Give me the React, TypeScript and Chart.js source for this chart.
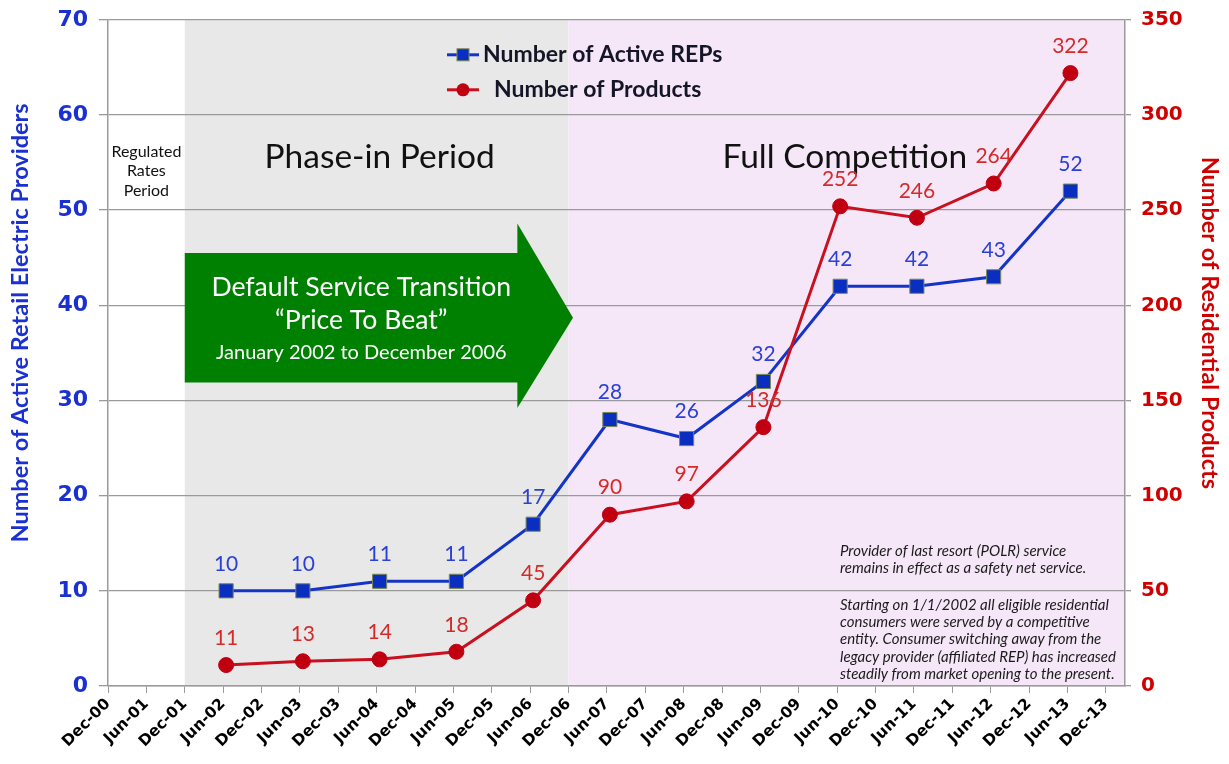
import React, { useEffect, useRef } from 'react';
import { Chart, registerables } from 'chart.js';

Chart.register(...registerables);

// ---- data ----
const tickLabels = [
  'Dec-00', 'Jun-01', 'Dec-01', 'Jun-02', 'Dec-02', 'Jun-03', 'Dec-03', 'Jun-04', 'Dec-04',
  'Jun-05', 'Dec-05', 'Jun-06', 'Dec-06', 'Jun-07', 'Dec-07', 'Jun-08', 'Dec-08', 'Jun-09',
  'Dec-09', 'Jun-10', 'Dec-10', 'Jun-11', 'Dec-11', 'Jun-12', 'Dec-12', 'Jun-13', 'Dec-13',
];
const snapshotDates = [
  '2002-06-15', '2003-06-15', '2004-06-15', '2005-06-15', '2006-06-15', '2007-06-15',
  '2008-06-15', '2009-06-15', '2010-06-15', '2011-06-15', '2012-06-15', '2013-06-15',
];
const activeReps = [10, 10, 11, 11, 17, 28, 26, 32, 42, 42, 43, 52];
const residentialProducts = [11, 13, 14, 18, 45, 90, 97, 136, 252, 246, 264, 322];

const repsLabel = 'Number of Active REPs';
const productsLabel = 'Number of Products';
const leftTitle = 'Number of Active Retail Electric Providers';
const rightTitle = 'Number of Residential Products';

const regulatedStart = '2000-12-01';
const phaseInStart = '2001-12-01';
const fullCompStart = '2006-12-01';
const axisEnd = '2014-03-01';

const footnote1 = [
  'Provider of last resort (POLR) service',
  'remains in effect as a safety net service.',
];
const footnote2 = [
  'Starting on 1/1/2002 all eligible residential',
  'consumers were served by a competitive',
  'entity. Consumer switching away from the',
  'legacy provider (affiliated REP) has increased',
  'steadily from market opening to the present.',
];

// months since Dec 2000
const toMonths = (iso: string) => {
  const [y, m, d] = iso.split('-').map(Number);
  return (y - 2000) * 12 + (m - 12) + (d - 1) / 30;
};

const BLUE_LINE = '#1434c8';
const BLUE_MARK = '#0a2fc0';
const BLUE_TEXT = '#2b40d4';
const BLUE_AXIS = '#1a30d0';
const RED_LINE = '#c8101e';
const RED_MARK = '#c00010';
const RED_TEXT = '#d42a2a';
const RED_AXIS = '#d00000';
const GRID = '#9a9a9a';

const decorPlugin = {
  id: 'decor',
  beforeDraw(chart: any) {
    const { ctx, chartArea, scales } = chart;
    const { top, bottom, right } = chartArea;
    const x = scales.x;
    ctx.save();
    ctx.fillStyle = '#ffffff';
    ctx.fillRect(0, 0, chart.width, chart.height);
    const xa = x.getPixelForValue(toMonths(phaseInStart));
    const xb = x.getPixelForValue(toMonths(fullCompStart));
    ctx.fillStyle = '#e8e8e8';
    ctx.fillRect(xa, top, xb - xa, bottom - top);
    ctx.fillStyle = '#f5e7f8';
    ctx.fillRect(xb, top, right - xb, bottom - top);
    ctx.restore();
  },
  beforeDatasetsDraw(chart: any) {
    const { ctx, chartArea, scales } = chart;
    const { top, bottom, right } = chartArea;
    const x = scales.x;
    const y = scales.y;
    ctx.save();

    // green arrow
    const ax0 = x.getPixelForValue(toMonths(phaseInStart));
    const axHead = x.getPixelForValue(64);
    const axTip = x.getPixelForValue(toMonths(fullCompStart) + 0.7);
    const bTop = y.getPixelForValue(45.5);
    const bBot = y.getPixelForValue(31.9);
    const hTop = y.getPixelForValue(48.6);
    const hBot = y.getPixelForValue(29.2);
    const mid = (bTop + bBot) / 2;
    ctx.fillStyle = '#008000';
    ctx.beginPath();
    ctx.moveTo(ax0, bTop);
    ctx.lineTo(axHead, bTop);
    ctx.lineTo(axHead, hTop);
    ctx.lineTo(axTip, mid);
    ctx.lineTo(axHead, hBot);
    ctx.lineTo(axHead, bBot);
    ctx.lineTo(ax0, bBot);
    ctx.closePath();
    ctx.fill();

    ctx.fillStyle = '#ffffff';
    ctx.textAlign = 'center';
    ctx.textBaseline = 'middle';
    const tcx = x.getPixelForValue(39.6);
    ctx.font = '26.6px Lato';
    ctx.fillText('Default Service Transition', tcx, bTop + 34);
    ctx.fillText('\u201CPrice To Beat\u201D', tcx, bTop + 67);
    ctx.font = '20px Lato';
    ctx.fillText('January 2002 to December 2006', tcx, bTop + 100);

    // period labels
    ctx.fillStyle = '#111111';
    ctx.font = '16px Lato';
    const rcx = (x.getPixelForValue(toMonths(regulatedStart)) + x.getPixelForValue(toMonths(phaseInStart))) / 2;
    ctx.fillText('Regulated', rcx, top + 132);
    ctx.fillText('Rates', rcx, top + 151);
    ctx.fillText('Period', rcx, top + 171);
    ctx.font = '33.5px Lato';
    const xPhaseEnd = x.getPixelForValue(toMonths(fullCompStart));
    ctx.fillText('Phase-in Period', (ax0 + xPhaseEnd) / 2 + 3, top + 137);
    ctx.fillText('Full Competition', (xPhaseEnd + right) / 2 - 2, top + 137);

    // footnotes
    ctx.textAlign = 'left';
    ctx.font = 'italic 15px Lato';
    ctx.fillStyle = '#1a1a1a';
    const fx = right - 285;
    footnote1.forEach((t, i) => ctx.fillText(t, fx, bottom - 135 + i * 17.5));
    footnote2.forEach((t, i) => ctx.fillText(t, fx, bottom - 81 + i * 17.3));

    // legend
    const lx = x.getPixelForValue(0) + 339;
    const legendItems = [
      { label: repsLabel, line: BLUE_LINE, fill: BLUE_MARK, style: 'rect', y: top + 35, tx: lx + 36 },
      { label: productsLabel, line: RED_LINE, fill: RED_MARK, style: 'circle', y: top + 70, tx: lx + 47 },
    ];
    legendItems.forEach((it) => {
      ctx.strokeStyle = it.line;
      ctx.lineWidth = 3;
      ctx.beginPath();
      ctx.moveTo(lx, it.y);
      ctx.lineTo(lx + 32, it.y);
      ctx.stroke();
      ctx.fillStyle = it.fill;
      if (it.style === 'rect') {
        ctx.fillRect(lx + 10, it.y - 6, 12, 12);
        ctx.strokeStyle = '#7a8a50';
        ctx.lineWidth = 1;
        ctx.strokeRect(lx + 10, it.y - 6, 12, 12);
      } else {
        ctx.beginPath();
        ctx.arc(lx + 16, it.y, 6.5, 0, Math.PI * 2);
        ctx.fill();
      }
      ctx.fillStyle = '#151528';
      ctx.font = 'bold 23px Lato';
      ctx.textAlign = 'left';
      ctx.fillText(it.label, it.tx, it.y);
    });
    ctx.restore();
  },
  afterDatasetsDraw(chart: any) {
    const { ctx, chartArea } = chart;
    const { top, bottom } = chartArea;
    ctx.save();
    ctx.textAlign = 'center';
    ctx.textBaseline = 'middle';
    ctx.font = '21px Lato';
    chart.data.datasets.forEach((ds: any, di: number) => {
      const meta = chart.getDatasetMeta(di);
      ctx.fillStyle = ds.labelColor;
      meta.data.forEach((pt: any, i: number) => {
        ctx.fillText(String(ds.data[i].y), pt.x, pt.y - 27);
      });
    });

    // axis titles
    const cy = top + (bottom - top) * 0.455;
    ctx.font = 'bold 23.5px Lato';
    ctx.fillStyle = BLUE_AXIS;
    ctx.save();
    ctx.translate(20, cy);
    ctx.rotate(-Math.PI / 2);
    ctx.fillText(leftTitle, 0, 0);
    ctx.restore();
    ctx.fillStyle = RED_AXIS;
    ctx.save();
    ctx.translate(1210, cy);
    ctx.rotate(Math.PI / 2);
    ctx.fillText(rightTitle, 0, 0);
    ctx.restore();
    ctx.restore();
  },
};

export default function App() {
  const canvasRef = useRef<HTMLCanvasElement | null>(null);

  useEffect(() => {
    const canvas = canvasRef.current;
    if (!canvas) return;
    const xs = snapshotDates.map(toMonths);
    const chart = new Chart(canvas, {
      type: 'line',
      data: {
        datasets: [
          {
            label: productsLabel,
            data: residentialProducts.map((v, i) => ({ x: xs[i], y: v })),
            yAxisID: 'y1',
            borderColor: RED_LINE,
            borderWidth: 3,
            pointStyle: 'circle',
            pointRadius: 7.5,
            pointBackgroundColor: RED_MARK,
            pointBorderColor: RED_MARK,
            pointBorderWidth: 1,
            tension: 0,
            order: 0,
            labelColor: RED_TEXT,
          } as any,
          {
            label: repsLabel,
            data: activeReps.map((v, i) => ({ x: xs[i], y: v })),
            yAxisID: 'y',
            borderColor: BLUE_LINE,
            borderWidth: 3,
            pointStyle: 'rect',
            pointRadius: 10,
            pointBackgroundColor: BLUE_MARK,
            pointBorderColor: '#7a8a50',
            pointBorderWidth: 1,
            tension: 0,
            order: 1,
            labelColor: BLUE_TEXT,
          } as any,
        ],
      },
      options: {
        animation: false,
        responsive: true,
        maintainAspectRatio: false,
        layout: { padding: { top: 12, left: 0, right: 0, bottom: 0 } },
        plugins: {
          legend: { display: false },
          tooltip: { enabled: false },
          title: { display: false },
        },
        scales: {
          x: {
            type: 'linear',
            position: 'bottom',
            min: toMonths(regulatedStart),
            max: toMonths(axisEnd),
            afterBuildTicks: (s: any) => {
              s.ticks = tickLabels.map((_, i) => ({ value: i * 6 }));
            },
            afterFit: (s: any) => {
              s.height = 78;
            },
            ticks: {
              autoSkip: false,
              minRotation: 45,
              maxRotation: 45,
              padding: 2,
              color: '#000000',
              font: { family: 'DejaVu Sans', weight: 'bold', size: 15.5 },
              callback: (v: any) => tickLabels[Math.round(Number(v) / 6)] ?? '',
            },
            grid: { drawOnChartArea: false, drawTicks: true, tickLength: 7, color: GRID, lineWidth: 1 },
            border: { color: GRID, width: 1.5 },
          },
          y: {
            type: 'linear',
            position: 'left',
            min: 0,
            max: 70,
            afterFit: (s: any) => {
              s.width = 108;
            },
            ticks: {
              stepSize: 10,
              padding: 11,
              color: BLUE_AXIS,
              font: { family: 'DejaVu Sans', weight: 'bold', size: 22, lineHeight: 0.8 },
            },
            grid: { color: GRID, lineWidth: 1.3, tickLength: 9 },
            border: { color: GRID, width: 1.5 },
          },
          y1: {
            type: 'linear',
            position: 'right',
            min: 0,
            max: 350,
            afterFit: (s: any) => {
              s.width = 104;
            },
            ticks: {
              stepSize: 50,
              padding: 10,
              color: RED_AXIS,
              font: { family: 'DejaVu Sans', weight: 'bold', size: 20, lineHeight: 0.8 },
            },
            grid: { drawOnChartArea: false, color: GRID, lineWidth: 1.3, tickLength: 6 },
            border: { color: GRID, width: 1.5 },
          },
        },
      } as any,
      plugins: [decorPlugin],
    });
    return () => chart.destroy();
  }, []);

  return (
    <div style={{ position: 'absolute', left: 0, top: 0, width: 1229, height: 764, background: '#fff' }}>
      <canvas ref={canvasRef} />
    </div>
  );
}
